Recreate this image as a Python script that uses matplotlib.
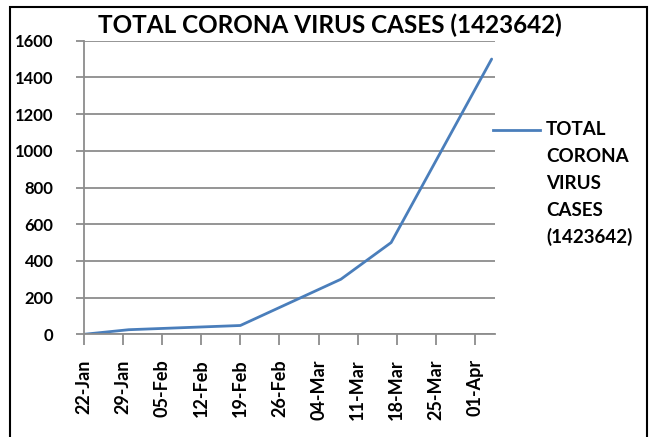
import matplotlib
matplotlib.use("Agg")
import matplotlib.pyplot as plt
import pandas as pd
from matplotlib.patches import Rectangle
from matplotlib.lines import Line2D

title = "TOTAL CORONA VIRUS CASES (1423642)"
legend_lines = ["TOTAL", "CORONA", "VIRUS", "CASES", "(1423642)"]
dates = ["2020-01-22", "2020-01-30", "2020-02-19", "2020-03-08", "2020-03-17", "2020-04-04"]
cases = [0, 25, 48, 300, 500, 1500]
tick_dates = ["2020-01-22", "2020-01-29", "2020-02-05", "2020-02-12", "2020-02-19",
              "2020-02-26", "2020-03-04", "2020-03-11", "2020-03-18", "2020-03-25", "2020-04-01"]
tick_labels = ["22-Jan", "29-Jan", "05-Feb", "12-Feb", "19-Feb", "26-Feb",
               "04-Mar", "11-Mar", "18-Mar", "25-Mar", "01-Apr"]
y_ticks = [0, 200, 400, 600, 800, 1000, 1200, 1400, 1600]

plt.rcParams['font.family'] = ['Lato', 'DejaVu Sans']

x = pd.to_datetime(dates)
xt = pd.to_datetime(tick_dates)

W, H = 652, 437
fig = plt.figure(figsize=(W/100, H/100), dpi=100)
fig.patch.set_facecolor("white")
fig.add_artist(Rectangle((10/W, -0.01), 637/W, 1 - 7/H + 0.01, transform=fig.transFigure,
                         fill=False, edgecolor="black", linewidth=1.5))

ax = fig.add_axes([84/W, 1 - 334.3/H, (495-84)/W, (334.3-40.7)/H])
line_color = "#4A7EBB"
ax.plot(x, cases, color=line_color, linewidth=2.0, solid_capstyle="round")

ax.set_ylim(0, 1600)
ax.set_yticks(y_ticks)
ax.set_yticklabels([str(v) for v in y_ticks], fontsize=12, fontweight="bold")
ax.set_xlim(xt[0], x[-1] + pd.Timedelta(days=0.6))
ax.set_xticks(xt)
ax.set_xticklabels(tick_labels, rotation=90, fontsize=13, fontweight="bold")

ax.grid(axis="y", color="#8c8c8c", linewidth=1.3)
ax.set_axisbelow(True)
for s in ["top", "right"]:
    ax.spines[s].set_visible(False)
for s in ["left", "bottom"]:
    ax.spines[s].set_color("#8c8c8c")
    ax.spines[s].set_linewidth(1.3)
ax.tick_params(axis="y", length=6, width=1.3, color="#8c8c8c", pad=16)
ax.tick_params(axis="x", length=8, width=1.3, color="#8c8c8c", pad=10)

fig.text(330/W, 1 - 25/H, title, ha="center", va="center", fontsize=17.5, fontweight="bold")

# legend (drawn manually to match layout)
fig.add_artist(Line2D([493/W, 540/W], [1 - 130/H, 1 - 130/H], color=line_color, linewidth=2.0,
                      transform=fig.transFigure))
for i, t in enumerate(legend_lines):
    fig.text(546/W, 1 - (130 + 26.7*i)/H, t, ha="left", va="center", fontsize=13.5, fontweight="bold")

fig.savefig("out.png", dpi=100)
